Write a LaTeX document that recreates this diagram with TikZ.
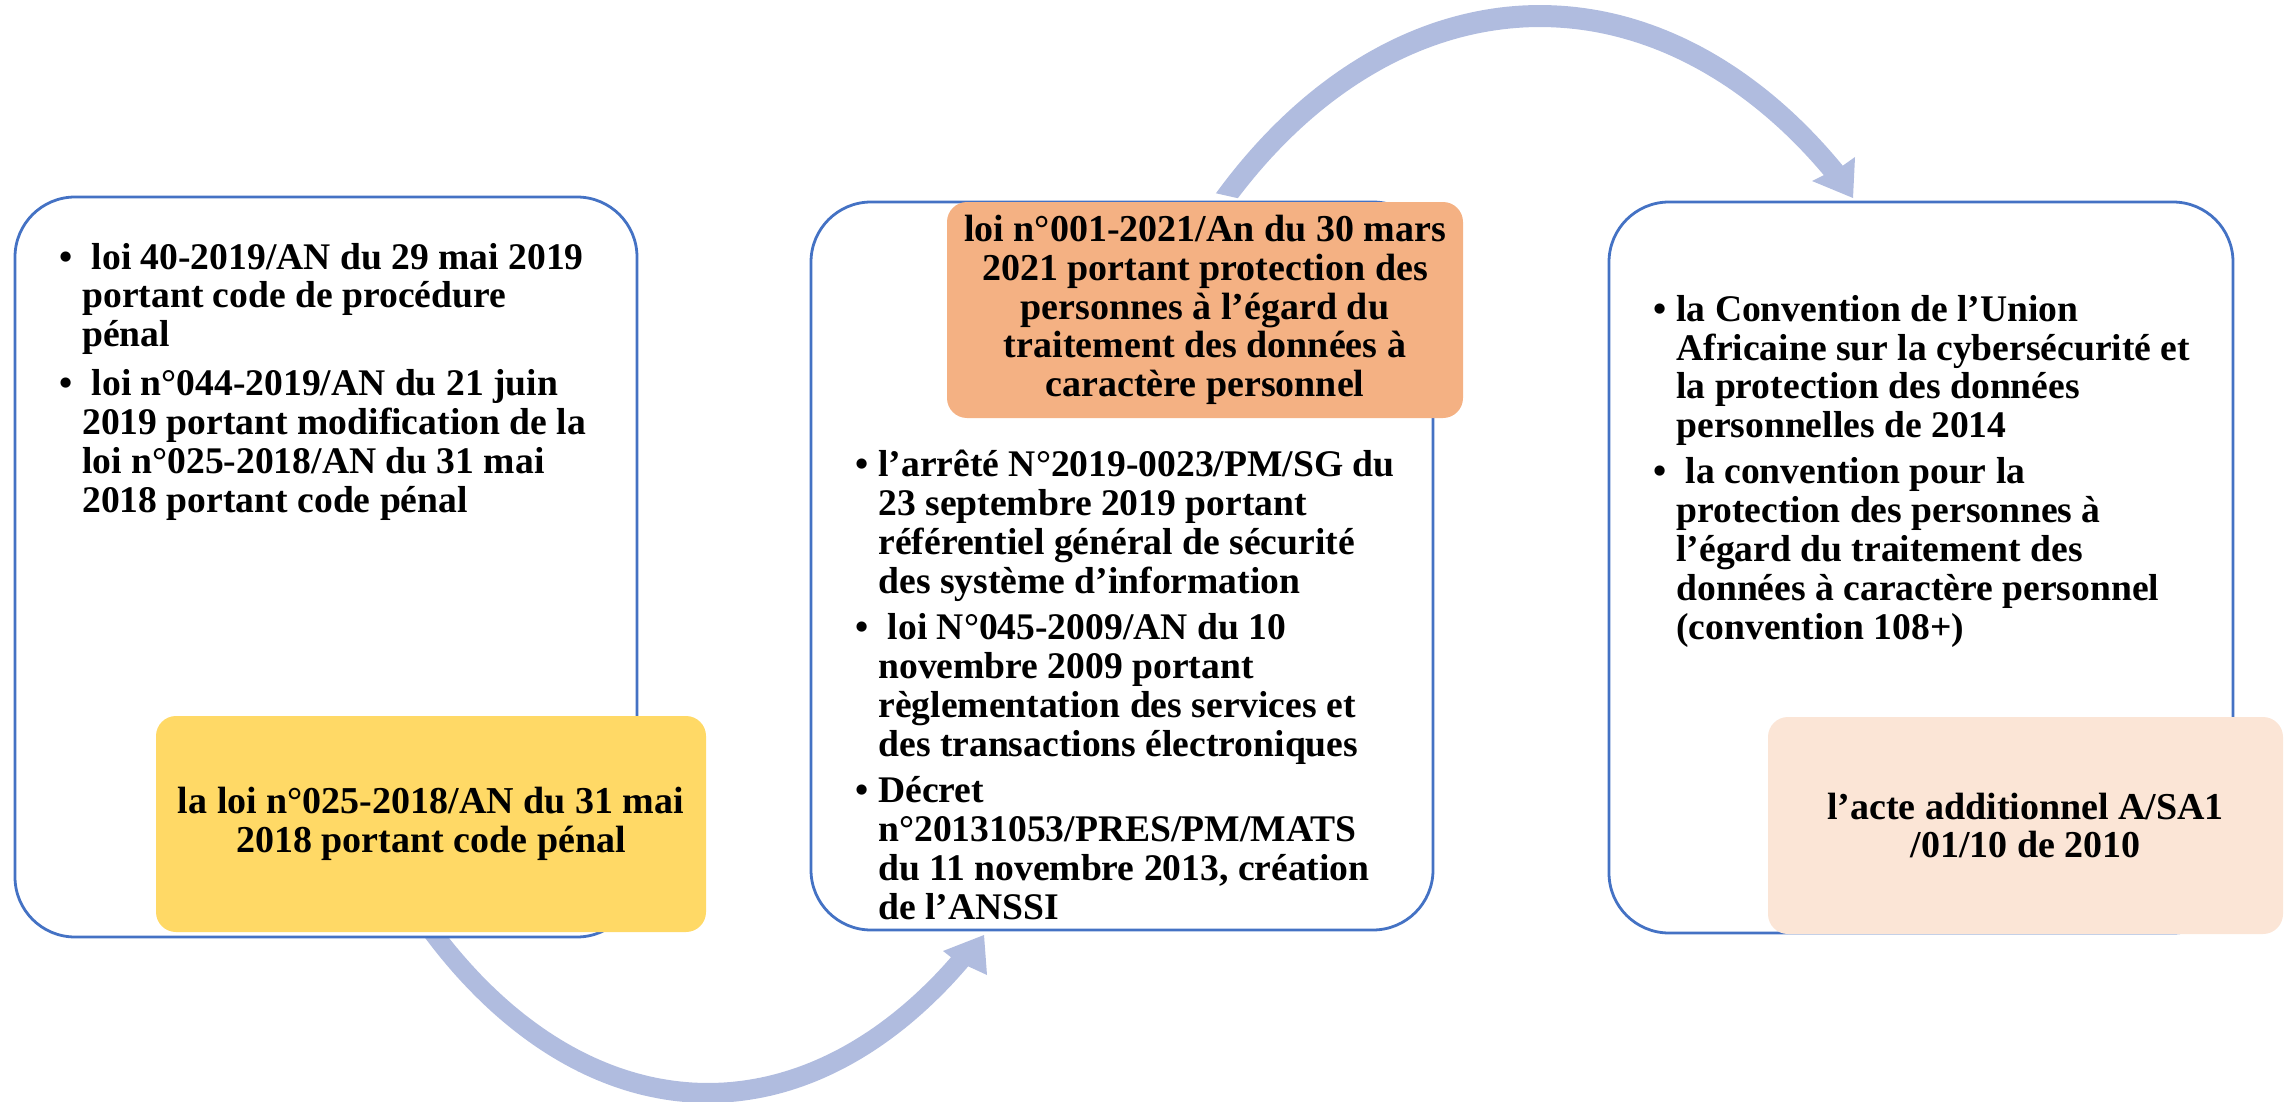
\documentclass[tikz,border=0pt]{standalone}
\usepackage{fontspec}
\setmainfont{Liberation Serif}
\definecolor{boxblue}{RGB}{68,114,196}
\definecolor{arrowc}{RGB}{176,188,223}
\definecolor{goldc}{RGB}{255,217,102}
\definecolor{orangec}{RGB}{244,177,131}
\definecolor{peachc}{RGB}{251,229,214}
\newlength{\bw}\setlength{\bw}{11.5pt}
\newcommand{\bul}{\makebox[\bw][l]{•}}
\newcommand{\cont}{\hspace*{\bw}}
\newcommand{\lsp}{\hspace{0.25em}}
\begin{document}
\begin{tikzpicture}[x=0.5pt,y=-0.5pt,
  wbox/.style={draw=boxblue, line width=1.4pt, fill=white, rounded corners=30pt, inner sep=0pt},
  cbox/.style={rounded corners=10pt, inner sep=0pt, align=center, text=black,
               font=\fontsize{19}{19.4}\selectfont\bfseries},
  btext/.style={anchor=base west, align=left, inner sep=0pt, text=black},
  arc/.style={fill=arrowc}]
\useasboundingbox (0,0) rectangle (2292,1102);

% curved arrows (under the boxes)
\fill[arc] plot[domain=-42.8:39.4, samples=90] ({1540+477*sin(\x)},{712-707*cos(\x)})
  -- (1855,157) -- (1853,198) -- (1812,181)
  -- plot[domain=-38.4:41.4, samples=90] ({1540+457*sin(-\x)},{712-685*cos(-\x)}) -- cycle;
\fill[arc] plot[domain=-41:35.6, samples=90] ({708+447*sin(\x)},{372+731*cos(\x)})
  -- (987,975) -- (984,935) -- (943,951)
  -- plot[domain=-34.6:39.5, samples=90] ({708+428*sin(-\x)},{372+711*cos(-\x)}) -- cycle;

% white boxes
\node[wbox, minimum width=311pt, minimum height=370pt] (b1) at (326,567) {};
\node[wbox, minimum width=311pt, minimum height=364pt] (b2) at (1122,566) {};
\node[wbox, minimum width=312pt, minimum height=365.5pt] (b3) at (1921,567.5) {};

% bullet texts (anchor = baseline of the last line)
\node[btext, font=\fontsize{18.8}{19.45}\selectfont\bfseries] (t1) at (59,512) {%
\bul\lsp loi 40-2019/AN du 29 mai 2019\\
\cont portant code de procédure\\
\cont pénal\\[4.8pt]
\bul\lsp loi n°044-2019/AN du 21 juin\\
\cont 2019 portant modification de la\\
\cont loi n°025-2018/AN du 31 mai\\
\cont 2018 portant code pénal};

\node[btext, font=\fontsize{18.8}{19.5}\selectfont\bfseries] (t2) at (855,919) {%
\bul l’arrêté N°2019-0023/PM/SG du\\
\cont 23 septembre 2019 portant\\
\cont référentiel général de sécurité\\
\cont des système d’information\\[3.5pt]
\bul\lsp loi N°045-2009/AN du 10\\
\cont novembre 2009 portant\\
\cont règlementation des services et\\
\cont des transactions électroniques\\[3.5pt]
\bul Décret\\
\cont n°20131053/PRES/PM/MATS\\
\cont du 11 novembre 2013, création\\
\cont de l’ANSSI};

\node[btext, font=\fontsize{18.8}{19.4}\selectfont\bfseries] (t3) at (1653,639) {%
\bul la Convention de l’Union\\
\cont Africaine sur la cybersécurité et\\
\cont la protection des données\\
\cont personnelles de 2014\\[3.7pt]
\bul\lsp la convention pour la\\
\cont protection des personnes à\\
\cont l’égard du traitement des\\
\cont données à caractère personnel\\
\cont (convention 108+)};

% coloured boxes
\node[cbox, fill=goldc, minimum width=275pt, minimum height=108pt] (y1) at (431,824)
  {la loi n°025-2018/AN du 31 mai\\2018 portant code pénal};
\node[cbox, fill=orangec, minimum width=258pt, minimum height=108pt] (o1) at (1205,310)
  {loi n°001-2021/An du 30 mars\\2021 portant protection des\\personnes à l’égard du\\traitement des données à\\caractère personnel};
\node[cbox, fill=peachc, minimum width=257.5pt, minimum height=108.5pt] (p1) at (2025.5,825.5)
  {l’acte additionnel A/SA1\\/01/10 de 2010};
\end{tikzpicture}
\end{document}
